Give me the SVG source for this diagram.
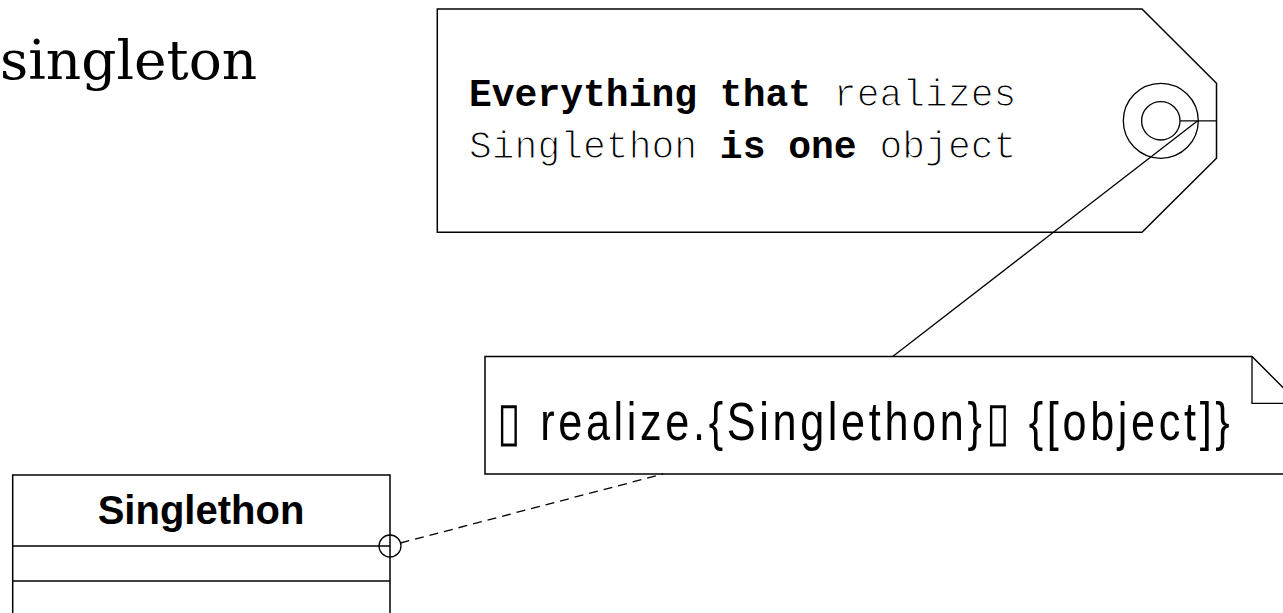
<svg xmlns="http://www.w3.org/2000/svg" width="1283" height="613" viewBox="0 0 1283 613">
  <style>
    .shape { fill: #ffffff; stroke: #000000; stroke-width: 1.5; }
    .line { fill: none; stroke: #000000; stroke-width: 1.3; }
    .dash { fill: none; stroke: #000000; stroke-width: 1.3; stroke-dasharray: 9 6; }
    .title { font-family: "DejaVu Serif", "Liberation Serif", serif; font-size: 55px; fill: #000; }
    .mono { font-family: "Liberation Mono", "Courier New", monospace; font-size: 38px; fill: #000; }
    .mono .r { stroke: #ffffff; stroke-width: 1.2; }
    .mono .b { font-weight: bold; }
    .note { font-family: "Liberation Sans", Arial, sans-serif; font-size: 54px; fill: #000; }
    .cls { font-family: "Liberation Sans", Arial, sans-serif; font-weight: bold; font-size: 40px; fill: #000; }
  </style>

  <text class="title" x="0" y="79">singleton</text>

  <g id="tag">
    <path class="shape" d="M437.3 9 H1142 L1216.5 83.3 V158.3 L1142 232.3 H437.3 Z"/>
    <circle class="line" cx="1160.8" cy="120.8" r="37.5"/>
    <circle class="line" cx="1160.8" cy="120.8" r="19.2"/>
    <line class="line" x1="1180" y1="120.8" x2="1216.5" y2="120.8"/>
    <text class="mono" x="469" y="106"><tspan class="b">Everything that</tspan><tspan class="r"> realizes</tspan></text>
    <text class="mono" x="469" y="158"><tspan class="r">Singlethon </tspan><tspan class="b">is one</tspan><tspan class="r"> object</tspan></text>
  </g>

  <g id="note">
    <path class="shape" d="M485 356.5 H1252 L1300 404.5 V474 H485 Z"/>
    <path class="line" d="M1252 356.5 V403.3 H1300"/>
    <text class="note" transform="translate(497 440) scale(0.8 1)" x="0" y="0" textLength="916" lengthAdjust="spacing">▯ realize.{Singlethon}▯ {[object]}</text>
  </g>

  <g id="singlethon">
    <path class="shape" d="M12.7 640 V475 H390 V640"/>
    <line class="line" x1="12.7" y1="546" x2="390" y2="546"/>
    <line class="line" x1="12.7" y1="581" x2="390" y2="581"/>
    <text class="cls" x="201" y="524" text-anchor="middle">Singlethon</text>
  </g>

  <g id="connectors">
    <line class="line" x1="1197.7" y1="120.7" x2="892.7" y2="356.5"/>
    <line class="dash" x1="400.5" y1="543" x2="663" y2="474"/>
    <circle class="line" cx="390" cy="546" r="11"/>
  </g>
</svg>
